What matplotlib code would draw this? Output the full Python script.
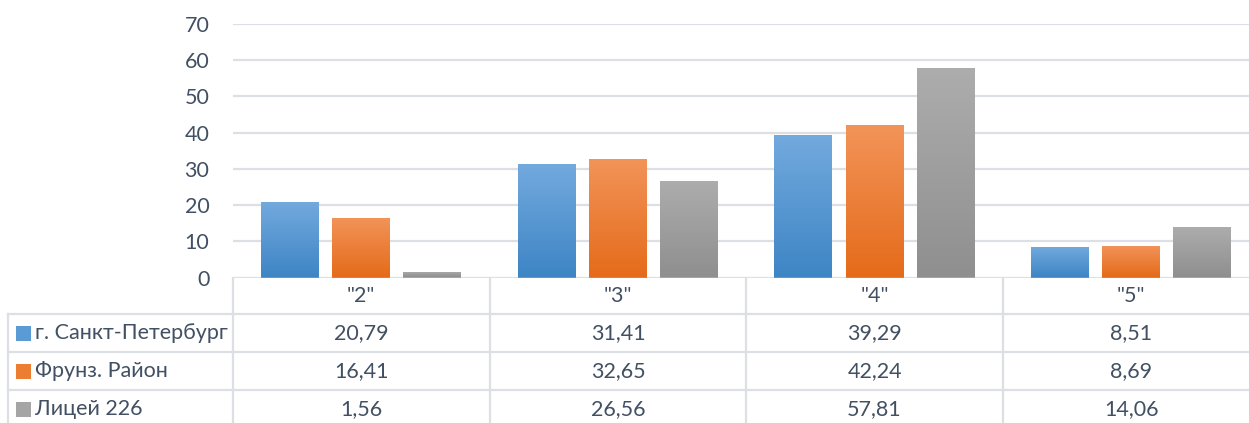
import matplotlib
matplotlib.use("Agg")
import matplotlib.pyplot as plt
import numpy as np
from matplotlib.colors import LinearSegmentedColormap
from matplotlib.patches import Rectangle
from matplotlib.lines import Line2D
import matplotlib.transforms as mtransforms

plt.rcParams['font.family'] = ['Lato', 'Open Sans', 'DejaVu Sans']

categories = ['"2"', '"3"', '"4"', '"5"']
series_names = ['г. Санкт-Петербург', 'Фрунз. Район', 'Лицей 226']
spb = [20.79, 31.41, 39.29, 8.51]
frunz = [16.41, 32.65, 42.24, 8.69]
lyceum = [1.56, 26.56, 57.81, 14.06]
series = [spb, frunz, lyceum]
labels_text = [['20,79', '31,41', '39,29', '8,51'],
               ['16,41', '32,65', '42,24', '8,69'],
               ['1,56', '26,56', '57,81', '14,06']]
yticks = [0, 10, 20, 30, 40, 50, 60, 70]

grad_colors = [('#73AADE', '#3E85C5'), ('#F29459', '#E56B1A'), ('#ADADAD', '#8F8F8F')]
solid_colors = ['#5B9BD5', '#ED7D31', '#A5A5A5']
text_color = '#425063'
grid_color = '#DCDFE4'
FS = 15.5

W, H = 1249, 423
fig = plt.figure(figsize=(W / 100, H / 100), dpi=100)

def fx(px):
    return px / W

def fy(py):
    return 1 - py / H

ax_left, ax_right = 233, 1259.5
ax_top, ax_bot = 24, 277.5
ax = fig.add_axes([fx(ax_left), fy(ax_bot), fx(ax_right - ax_left), (ax_bot - ax_top) / H])

n = len(categories)
x = np.arange(n)
bw = 0.226
off = 0.277
for i, (vals, (ctop, cbot)) in enumerate(zip(series, grad_colors)):
    bars = ax.bar(x + (i - 1) * off, vals, width=bw, color=solid_colors[i], zorder=2)
    cmap = LinearSegmentedColormap.from_list('g%d' % i, [cbot, ctop])
    grad = np.linspace(0, 1, 256).reshape(-1, 1)
    for b in bars:
        bx, by, bwid, bh = b.get_x(), b.get_y(), b.get_width(), b.get_height()
        im = ax.imshow(grad, extent=[bx, bx + bwid, by, by + bh], origin='lower',
                       aspect='auto', cmap=cmap, zorder=3)
        im.set_clip_path(b)

ax.set_xlim(-0.5, n - 0.5)
ax.set_ylim(0, 70)
ax.set_yticks(yticks)
ax.set_xticks([])
ax.yaxis.grid(True, color=grid_color, linewidth=1.6, zorder=0)
ax.set_axisbelow(True)
for s in ax.spines.values():
    s.set_visible(False)
ax.tick_params(axis='y', length=0, pad=17, labelsize=FS, labelcolor=text_color)
ax.patch.set_alpha(0)

# Table
trans = mtransforms.blended_transform_factory(ax.transData, fig.transFigure)
row_lines = [314, 352, 390]
lw = 1.6
for k in range(n + 1):
    ax.add_line(Line2D([k - 0.5, k - 0.5], [fy(277.5), fy(423)], transform=trans,
                       color=grid_color, linewidth=lw, clip_on=False))
for ry in row_lines:
    fig.add_artist(Line2D([fx(8), 1], [fy(ry), fy(ry)], color=grid_color, linewidth=lw))
fig.add_artist(Line2D([fx(8), fx(8)], [fy(314), 0], color=grid_color, linewidth=lw))

for k, c in enumerate(categories):
    ax.text(k, fy(296.5), c, transform=trans, ha='center', va='center',
            fontsize=FS, color=text_color, clip_on=False)
row_centers = [333, 371, 409]
for r in range(3):
    for k in range(n):
        ax.text(k, fy(row_centers[r]), labels_text[r][k], transform=trans, ha='center',
                va='center', fontsize=FS, color=text_color, clip_on=False)
    fig.add_artist(Rectangle((fx(16), fy(row_centers[r] + 7.5)), fx(15), 15 / H,
                             facecolor=solid_colors[r], edgecolor='none'))
    fig.text(fx(35), fy(row_centers[r]), series_names[r], ha='left', va='center',
             fontsize=FS, color=text_color)

fig.savefig('out.png', dpi=100)
